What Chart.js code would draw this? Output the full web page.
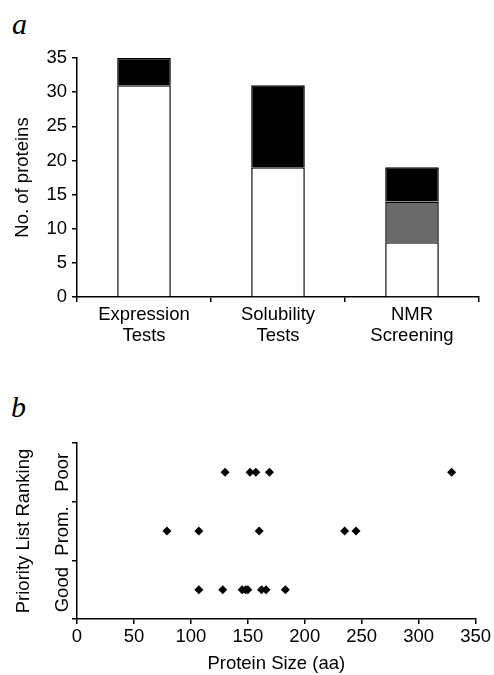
<!DOCTYPE html>
<html lang="en">
<head>
    <meta charset="UTF-8">
    <title>Protein screening</title>
    <script src="https://cdn.jsdelivr.net/npm/chart.js"></script>
    <style>
        body { margin: 0; background: #fff; font-family: 'Liberation Sans', Arial, sans-serif; }
        .panel { position: absolute; left: 0; width: 494px; }
        .letter { position: absolute; font-family: 'Liberation Serif', 'Times New Roman', serif; font-style: italic; font-size: 30px; color: #000; }
    </style>
</head>
<body>
    <div class="letter" style="left:12px; top:7px;">a</div>
    <div class="panel" style="top:40px; height:305px;"><canvas id="barChart"></canvas></div>

    <div class="letter" style="left:11px; top:390px;">b</div>
    <div class="panel" style="top:425px; height:250px;"><canvas id="scatterChart"></canvas></div>

    <script>
        // Panel a: stacked bars
        const testLabels = [['Expression', 'Tests'], ['Solubility', 'Tests'], ['NMR', 'Screening']];
        const whiteCounts = [31, 19, 8];
        const grayCounts = [0, 0, 6];
        const blackCounts = [4, 12, 5];
        const countTicks = [0, 5, 10, 15, 20, 25, 30, 35];

        // Panel b: protein size vs ranking
        const rankLabels = ['Poor', 'Prom.', 'Good'];
        const poorSizes = [130, 152, 157, 169, 329];
        const promSizes = [79, 107, 160, 235, 245];
        const goodSizes = [107, 128, 145, 148, 150, 162, 166, 183];
        const sizeTicks = [0, 50, 100, 150, 200, 250, 300, 350];

        const ink = '#000';
        const fs = 18.5;
        Chart.defaults.font.family = "'Liberation Sans', Arial, sans-serif";
        Chart.defaults.color = ink;
        Chart.defaults.animation = false;

        const axisLine = { color: ink, width: 1.5 };
        const tickMarks = { drawOnChartArea: false, drawTicks: true, tickLength: 5, color: ink, lineWidth: 1.5 };

        new Chart(document.getElementById('barChart'), {
            type: 'bar',
            data: {
                labels: testLabels,
                datasets: [
                    { data: whiteCounts, backgroundColor: '#fff', borderColor: ink, borderWidth: 1.5 },
                    { data: grayCounts, backgroundColor: '#6a6a6a', borderColor: ink, borderWidth: 1.5 },
                    { data: blackCounts, backgroundColor: '#000', borderColor: ink, borderWidth: 1.5 }
                ]
            },
            options: {
                responsive: true,
                maintainAspectRatio: false,
                layout: { padding: { top: 18, left: 8, right: 15, bottom: 0 } },
                datasets: { bar: { categoryPercentage: 1, barPercentage: 0.4 } },
                plugins: { legend: { display: false }, tooltip: { enabled: false } },
                scales: {
                    x: {
                        stacked: true,
                        border: axisLine,
                        grid: { ...tickMarks, offset: true },
                        ticks: { font: { size: fs, lineHeight: 1.1 }, padding: 3, maxRotation: 0 },
                        afterFit: (s) => { s.height = 48; }
                    },
                    y: {
                        stacked: true,
                        min: 0,
                        max: 35,
                        border: axisLine,
                        grid: tickMarks,
                        afterBuildTicks: (s) => { s.ticks = countTicks.map(v => ({ value: v })); },
                        ticks: { font: { size: fs }, padding: 5 },
                        title: { display: true, text: 'No. of proteins', font: { size: fs }, padding: { top: 4, bottom: 0 } },
                        afterFit: (s) => { s.width = 69; }
                    }
                }
            }
        });

        const toPoints = (sizes, rank) => sizes.map(v => ({ x: v, y: rank }));
        const dotStyle = { pointStyle: 'rectRot', pointRadius: 4.5, backgroundColor: '#000', borderColor: '#000', borderWidth: 0 };

        new Chart(document.getElementById('scatterChart'), {
            type: 'scatter',
            data: {
                datasets: [
                    { data: toPoints(poorSizes, 'Poor'), ...dotStyle },
                    { data: toPoints(promSizes, 'Prom.'), ...dotStyle },
                    { data: toPoints(goodSizes, 'Good'), ...dotStyle }
                ]
            },
            options: {
                responsive: true,
                maintainAspectRatio: false,
                layout: { padding: { top: 18, left: 9, right: 14, bottom: 0 } },
                plugins: { legend: { display: false }, tooltip: { enabled: false } },
                scales: {
                    x: {
                        type: 'linear',
                        min: 0,
                        max: 350,
                        border: axisLine,
                        grid: tickMarks,
                        afterBuildTicks: (s) => { s.ticks = sizeTicks.map(v => ({ value: v })); },
                        ticks: { font: { size: fs, lineHeight: 1.1 }, padding: 3, maxRotation: 0 },
                        title: { display: true, text: 'Protein Size (aa)', font: { size: fs }, padding: { top: 0, bottom: 0 } },
                        afterFit: (s) => { s.height = 56; }
                    },
                    y: {
                        type: 'category',
                        labels: rankLabels,
                        offset: true,
                        border: axisLine,
                        grid: { ...tickMarks, offset: true },
                        ticks: { font: { size: fs }, minRotation: 90, maxRotation: 90, crossAlign: 'center', padding: -16 },
                        title: { display: true, text: 'Priority List Ranking', font: { size: fs }, padding: { top: 4, bottom: 0 } },
                        afterFit: (s) => { s.width = 68; }
                    }
                }
            }
        });
    </script>
</body>
</html>
